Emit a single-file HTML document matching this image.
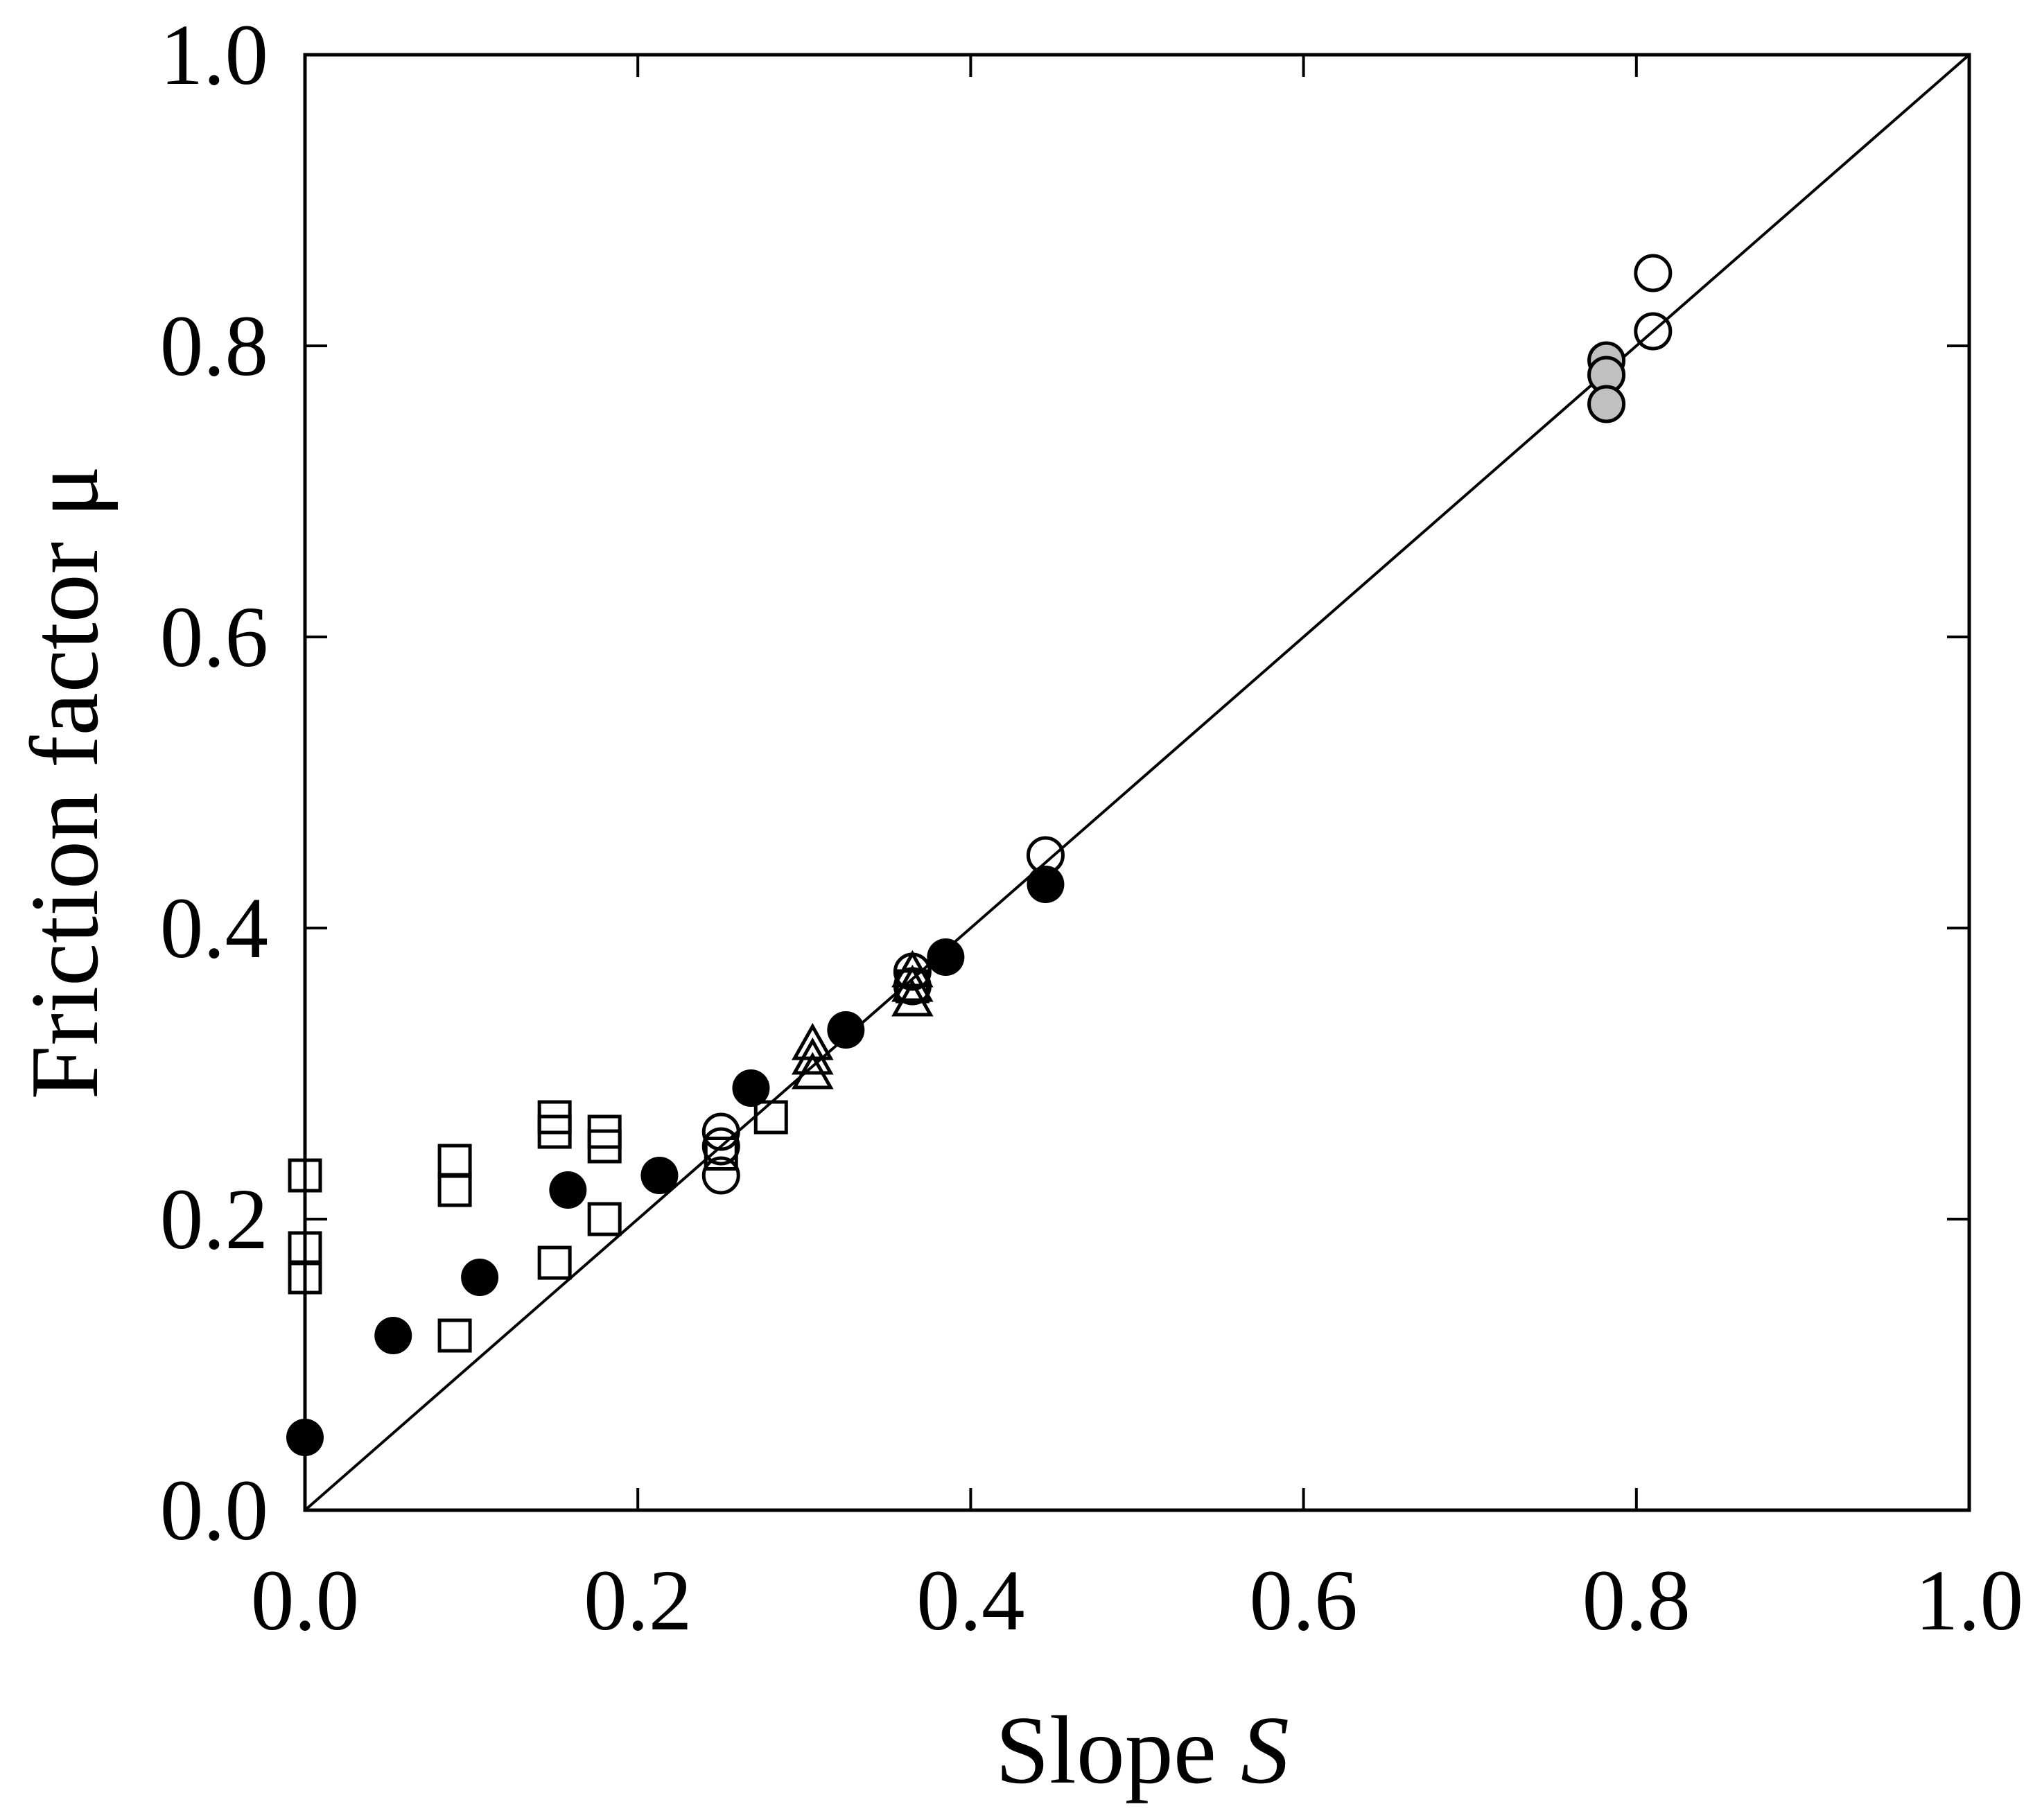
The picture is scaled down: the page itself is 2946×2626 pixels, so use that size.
<!DOCTYPE html>
<html><head><meta charset="utf-8"><style>
html,body{margin:0;padding:0;background:#fff;}
svg{display:block;}
text{font-family:"Liberation Serif",serif;fill:#000;}
</style></head><body>
<svg id="chart" width="2946" height="2626" viewBox="0 0 2946 2626" xmlns="http://www.w3.org/2000/svg">
<rect x="0" y="0" width="2946" height="2626" fill="#fff"/>
<g id="plot"></g>
<text x="1648" y="2572" font-size="140" text-anchor="middle">Slope <tspan font-style="italic">S</tspan></text>
<text x="0" y="0" font-size="140" text-anchor="middle" transform="translate(140,1129) rotate(-90)">Friction factor μ</text>
</svg>
<script>
const ticks=[0,0.2,0.4,0.6,0.8,1.0];
const tickLabels=["0.0","0.2","0.4","0.6","0.8","1.0"];
const filledS=[0,0.053,0.105,0.158,0.213,0.268,0.325,0.385,0.445];
const filledMu=[0.05,0.12,0.16,0.22,0.23,0.29,0.33,0.38,0.43];
const squareS=[0,0,0,0.09,0.09,0.09,0.15,0.15,0.15,0.18,0.18,0.18,0.28,0.25,0.365];
const squareMu=[0.16,0.18,0.23,0.12,0.22,0.24,0.17,0.26,0.27,0.20,0.25,0.26,0.27,0.245,0.36];
const openS=[0.25,0.25,0.25,0.365,0.365,0.445,0.81,0.81];
const openMu=[0.26,0.25,0.23,0.37,0.36,0.45,0.85,0.81];
const grayS=[0.782,0.782,0.782];
const grayMu=[0.79,0.78,0.76];
const triS=[0.305,0.305,0.305,0.365,0.365,0.365];
const triMu=[0.30,0.31,0.32,0.35,0.36,0.37];

const X0=440,X1=2841,Y0=2179,Y1=79;
const xs=v=>X0+v*(X1-X0);
const ys=v=>Y0-v*(Y0-Y1);
const NS='http://www.w3.org/2000/svg';
const g=document.getElementById('plot');
function mk(tag,attrs){const e=document.createElementNS(NS,tag);for(const k in attrs)e.setAttribute(k,attrs[k]);g.appendChild(e);return e;}

let e=mk('rect',{x:X0,y:Y1,width:X1-X0,height:Y0-Y1,fill:'none',stroke:'#000','stroke-width':5});


e=mk('line',{x1:xs(0),y1:ys(0),x2:xs(1),y2:ys(1),stroke:'#000','stroke-width':4});



ticks.forEach((t,i)=>{
  const L=32;
  e=mk('path',{d:`M${xs(t)},${Y0}v${-L}M${xs(t)},${Y1}v${L}M${X0},${ys(t)}h${L}M${X1},${ys(t)}h${-L}`,stroke:'#000','stroke-width':4,fill:'none'});
  
  
  e=mk('text',{x:xs(t),y:2351,'font-size':125,'text-anchor':'middle'});
  e.textContent=tickLabels[i];
  
  
  e=mk('text',{x:387,y:ys(t)+42,'font-size':125,'text-anchor':'end'});
  e.textContent=tickLabels[i];
  
  
});

squareS.forEach((s,i)=>{
  e=mk('rect',{x:xs(s)-22,y:ys(squareMu[i])-22,width:44,height:44,fill:'none',stroke:'#000','stroke-width':5});
  
  
});
triS.forEach((s,i)=>{
  const cx=xs(s),cy=ys(triMu[i]);
  e=mk('path',{d:`M${cx},${cy-26}L${cx+26},${cy+20}L${cx-26},${cy+20}Z`,fill:'none',stroke:'#000','stroke-width':5});
  
  
});
openS.forEach((s,i)=>{
  e=mk('ellipse',{cx:xs(s),cy:ys(openMu[i]),rx:25,ry:25,fill:'none',stroke:'#000','stroke-width':5});
  
  
});
grayS.forEach((s,i)=>{
  e=mk('circle',{cx:xs(s),cy:ys(grayMu[i]),r:25,fill:'#c0c0c0',stroke:'#000','stroke-width':5});
  
  
});
filledS.forEach((s,i)=>{
  e=mk('circle',{cx:xs(s),cy:ys(filledMu[i]),r:27,fill:'#000'});
  
  
});
</script>
</body></html>
